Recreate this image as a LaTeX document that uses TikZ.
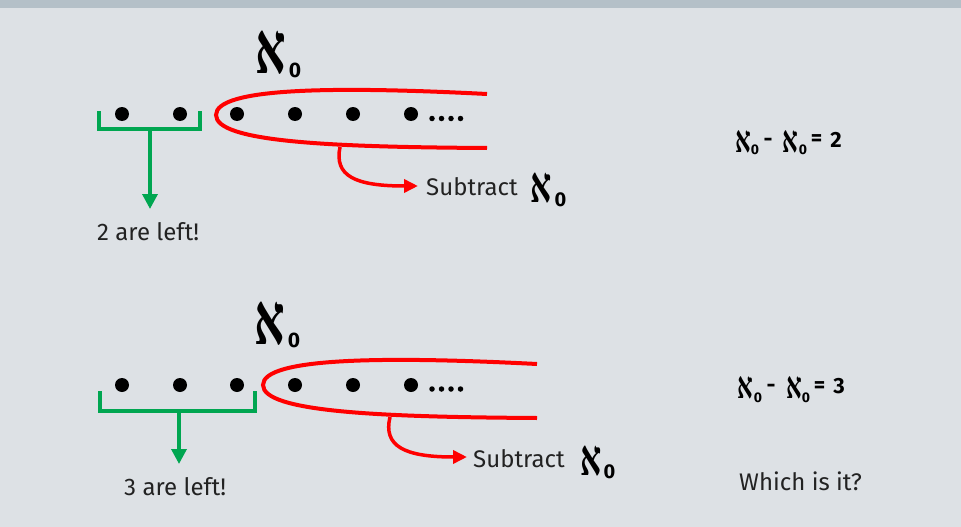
\documentclass[tikz,border=0pt]{standalone}
\usepackage{fontspec}
\setmainfont{Fira Sans}
\newfontfamily\alephfont[Script=Hebrew]{Liberation Serif}
\usetikzlibrary{arrows.meta}
\definecolor{bg}{HTML}{DDE1E5}
\definecolor{band}{HTML}{B4C0C8}
\definecolor{grn}{HTML}{00A651}
\definecolor{txt}{HTML}{222222}
\newcommand{\alef}[1]{\scalebox{0.66}[1]{\alephfont\bfseries\fontsize{#1}{#1}\selectfont א}}
\begin{document}
\begin{tikzpicture}[x=1pt,y=-1pt,
  dot/.style={circle,fill=black,inner sep=0pt,minimum size=14pt},
  sdot/.style={circle,fill=black,inner sep=0pt,minimum size=5.5pt},
  lbl/.style={text=txt,font=\fontsize{24}{26}\selectfont,inner sep=0pt},
  sub/.style={text=black,font=\bfseries\fontsize{#1}{#1}\selectfont,inner sep=0pt},
  eq/.style={text=black,font=\bfseries\fontsize{22}{22}\selectfont,inner sep=0pt},
  al/.style={inner sep=0pt},
  brk/.style={draw=grn,line width=3.5pt},
  garrow/.style={draw=grn,line width=3.5pt,-{Triangle[length=15pt,width=15pt]}},
  loop/.style={draw=red,line width=4pt},
  rarrow/.style={draw=red,line width=3.5pt,-{Triangle[length=14pt,width=13pt]}}]
\useasboundingbox (0,0) rectangle (961,527);
\fill[bg] (0,0) rectangle (961,527);
\fill[band] (0,0) rectangle (961,8);

% ---------- top row ----------
\foreach \i/\x in {1/122,2/180,3/237,4/295,5/353,6/411}
  \node[dot] (a\i) at (\x,114) {};
\foreach \i/\x in {1/432,2/441.5,3/451,4/460.5}
  \node[sdot] (ad\i) at (\x,118.5) {};
\node[al] (aal) at (271,52.5) {\alef{72}};
\node[sub=21] (aal0) at (295,70.5) {0};
\draw[brk] (99,111) -- (99,129) -- (200,129) -- (200,111);
\coordinate (ast) at (150,129);
\coordinate (aend) at (150,209);
\node[lbl,anchor=west] (aleft) at (97,232) {2 are left!};
\draw[garrow] (ast) -- (aend);
\draw[loop] (487,94) .. controls (330,86) and (216,88) .. (216,115) .. controls (216,142) and (330,147) .. (487,148);
\coordinate (ars) at (340,147);
\coordinate (are) at (418,186);
\node[lbl,anchor=west] (asub) at (426,186.5) {Subtract};
\node[al] (asal) at (541.5,188.5) {\alef{50}};
\node[sub=20] (asal0) at (560.5,200) {0};
\draw[rarrow] (ars) .. controls (334,176) and (355,186) .. (are);
% equation
\node[al] (ea1) at (743,142) {\alef{37}};
\node[sub=14] (ea10) at (755,150) {0};
\node[eq] (eam) at (768,142) {-};
\node[al] (ea2) at (790,142) {\alef{37}};
\node[sub=14] (ea20) at (803,150) {0};
\node[eq] (eaeq) at (816.5,140.5) {=};
\node[eq] (ea2n) at (836,139.5) {2};

% ---------- bottom row ----------
\foreach \i/\x in {1/122,2/180,3/237,4/295,5/353,6/411}
  \node[dot] (b\i) at (\x,385) {};
\foreach \i/\x in {1/432,2/441.5,3/451,4/460.5}
  \node[sdot] (bd\i) at (\x,389) {};
\node[al] (bal) at (270,323.5) {\alef{72}};
\node[sub=21] (bal0) at (294,340.5) {0};
\draw[brk] (100,391) -- (100,411) -- (255,411) -- (255,391);
\coordinate (bst) at (179,411);
\coordinate (bend) at (179,464);
\node[lbl,anchor=west] (bleft) at (124,487) {3 are left!};
\draw[garrow] (bst) -- (bend);
\draw[loop] (537,364) .. controls (380,356) and (263,358) .. (263,385) .. controls (263,412) and (380,417) .. (537,418);
\coordinate (brs) at (390,417);
\coordinate (bre) at (467,457);
\node[lbl,anchor=west] (bsub) at (473,458.5) {Subtract};
\node[al] (bsal) at (591.5,461.5) {\alef{50}};
\node[sub=20] (bsal0) at (609.5,472) {0};
\draw[rarrow] (brs) .. controls (383,446) and (404,457) .. (bre);
% equation
\node[al] (eb1) at (745.5,388) {\alef{37}};
\node[sub=14] (eb10) at (758,397.5) {0};
\node[eq] (ebm) at (771,388) {-};
\node[al] (eb2) at (794,388) {\alef{37}};
\node[sub=14] (eb20) at (806,397.5) {0};
\node[eq] (ebeq) at (819.5,387) {=};
\node[eq] (eb3n) at (839,386.5) {3};
\node[lbl,anchor=west] (which) at (739,481) {Which is it?};
\end{tikzpicture}
\end{document}
